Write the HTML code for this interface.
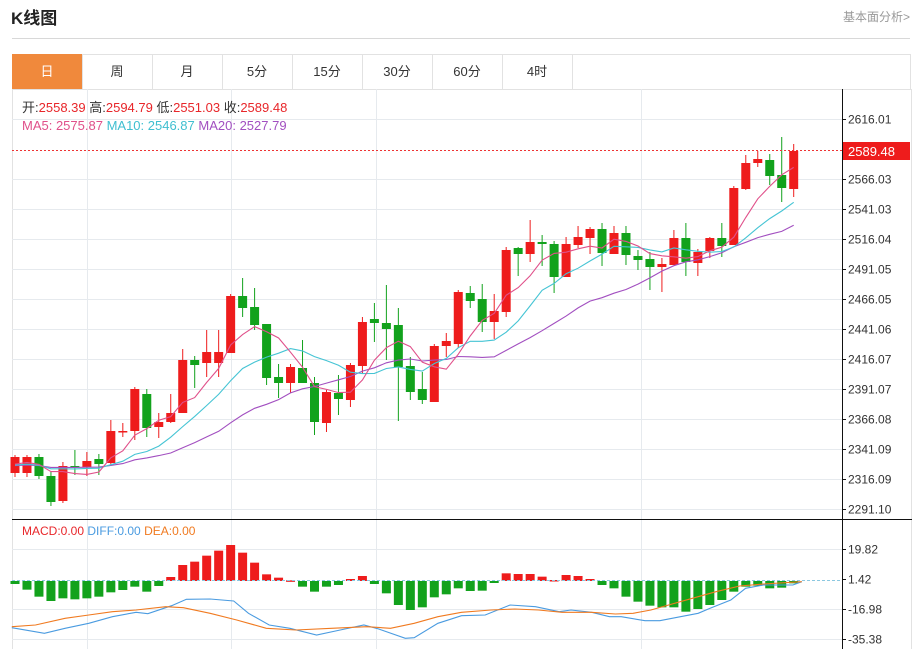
<!DOCTYPE html>
<html><head><meta charset="utf-8">
<style>
body{margin:0;background:#fff;width:916px;height:649px;overflow:hidden;font-family:"Liberation Sans","Noto Sans CJK SC",sans-serif;}
svg{position:absolute;left:0;top:0}
</style></head>
<body>
<svg id="s" width="916" height="649" xmlns="http://www.w3.org/2000/svg" font-family="Liberation Sans, Noto Sans CJK SC, sans-serif">
<text x="11" y="24" font-size="17" font-weight="bold" fill="#222">K线图</text>
<text x="843" y="21" font-size="12" fill="#999">基本面分析&gt;</text>
<line x1="12" y1="38.5" x2="910" y2="38.5" stroke="#d8d8d8"/>
<rect x="12.5" y="54.5" width="898" height="35" fill="#fff" stroke="#e2e2e2"/>
<rect x="12" y="54" width="70" height="35" fill="#f0893c"/>
<g font-size="13" fill="#333" text-anchor="middle">
<text x="47" y="76" fill="#fff">日</text>
<text x="117" y="76">周</text><text x="187" y="76">月</text><text x="257" y="76">5分</text>
<text x="327" y="76">15分</text><text x="397" y="76">30分</text><text x="467" y="76">60分</text><text x="537" y="76">4时</text>
</g>
<g stroke="#e2e2e2"><line x1="82.5" y1="54" x2="82.5" y2="89"/><line x1="152.5" y1="54" x2="152.5" y2="89"/><line x1="222.5" y1="54" x2="222.5" y2="89"/><line x1="292.5" y1="54" x2="292.5" y2="89"/><line x1="362.5" y1="54" x2="362.5" y2="89"/><line x1="432.5" y1="54" x2="432.5" y2="89"/><line x1="502.5" y1="54" x2="502.5" y2="89"/><line x1="572.5" y1="54" x2="572.5" y2="89"/></g>
<line x1="12.5" y1="89" x2="12.5" y2="649" stroke="#e2e2e2"/>
<line x1="911.5" y1="89" x2="911.5" y2="649" stroke="#e2e2e2"/>
<g id="grid"></g>
<g id="plot"></g>
<line x1="12" y1="519.5" x2="912" y2="519.5" stroke="#111"/>
<line x1="842.5" y1="89" x2="842.5" y2="649" stroke="#111"/>
<g font-size="13">
<text x="22" y="112" fill="#333">开:<tspan fill="#e8262a">2558.39</tspan>  高:<tspan fill="#e8262a">2594.79</tspan>  低:<tspan fill="#e8262a">2551.03</tspan>  收:<tspan fill="#e8262a">2589.48</tspan></text>
<text x="22" y="130"><tspan fill="#e0508a">MA5: 2575.87</tspan>  <tspan fill="#3fbfd0">MA10: 2546.87</tspan>  <tspan fill="#a24fc0">MA20: 2527.79</tspan></text>
<text x="22" y="535" font-size="12"><tspan fill="#e8262a">MACD:0.00</tspan>  <tspan fill="#4a9be0">DIFF:0.00</tspan>  <tspan fill="#f07a20">DEA:0.00</tspan></text>
</g>
</svg>
<script>
var NS="http://www.w3.org/2000/svg";
function el(p,t,a){var e=document.createElementNS(NS,t);for(var k in a)e.setAttribute(k,a[k]);p.appendChild(e);return e;}
var g=document.getElementById('grid'),P=document.getElementById('plot');
var pl=["2616.01","2591.02","2566.03","2541.03","2516.04","2491.05","2466.05","2441.06","2416.07","2391.07","2366.08","2341.09","2316.09","2291.10"];
for(var i=0;i<pl.length;i++){var y=119+i*30;
 if(i!=1){el(g,'line',{x1:12,y1:y+.5,x2:842,y2:y+.5,stroke:'#e6eaee'});
 el(g,'line',{x1:842,y1:y+.5,x2:846,y2:y+.5,stroke:'#111'});
 var t=el(g,'text',{x:848,y:y+4.5,'font-size':12,fill:'#333'});t.textContent=pl[i];}}
var ml=["19.82","1.42","-16.98","-35.38"];
for(var i=0;i<4;i++){var y=549+i*30;
 if(i!=1)el(g,'line',{x1:12,y1:y+.5,x2:842,y2:y+.5,stroke:'#e6eaee'});
 el(g,'line',{x1:842,y1:y+.5,x2:846,y2:y+.5,stroke:'#111'});
 var t=el(g,'text',{x:848,y:y+4.5,'font-size':12,fill:'#333'});t.textContent=ml[i];}
[87,231,376,641].forEach(function(x){el(g,'line',{x1:x+.5,y1:89,x2:x+.5,y2:649,stroke:'#e6eaee'});});
// candles: [bodyTop, bodyBot, wickTop, wickBot, red?]
var C=[[457,473,455,477,1],[457,473,455,477,1],[457,476,454,479,0],[476,502,472,506,0],[466,501,462,503,1],[466,467,450,475,0],[461,467,452,476,1],[459,464,454,475,0],[431,463,420,465,1],[431,432,423,437,1],[389,431,387,440,1],[394,428,389,437,0],[422,427,413,438,1],[413,422,394,423,1],[360,413,349,413,1],[360,365,356,388,0],[352,363,330,377,1],[352,363,330,377,1],[296,353,294,353,1],[296,308,278,317,0],[307,325,288,330,0],[324,378,324,385,0],[377,383,364,398,0],[367,383,364,393,1],[368,383,340,383,0],[383,422,377,435,0],[392,423,390,432,1],[393,399,375,415,0],[365,400,363,407,1],[322,366,317,373,1],[319,323,303,342,0],[323,329,285,360,0],[325,367,308,421,0],[366,392,357,400,0],[389,400,372,404,0],[346,402,344,402,1],[341,346,333,357,1],[292,344,290,348,1],[293,301,286,308,0],[299,322,284,332,0],[311,322,294,339,1],[250,312,247,317,1],[248,254,247,276,0],[242,254,220,262,1],[242,244,235,266,0],[244,277,241,293,0],[244,277,237,277,1],[237,245,226,248,1],[229,238,227,254,1],[229,253,223,266,0],[233,254,226,254,1],[233,255,226,265,0],[256,260,250,270,0],[259,267,252,290,0],[264,267,258,292,1],[238,265,230,265,1],[238,262,223,276,0],[252,263,249,276,1],[238,251,237,258,1],[238,246,223,257,0],[188,245,186,245,1],[163,189,155,190,1],[159,163,151,167,1],[160,176,154,185,0],[175,188,137,202,0],[151,189,144,197,1]];
var X=function(i){return 15+i*11.98;};
C.forEach(function(c,i){var x=X(i),col=c[4]?'#ee1c1c':'#12a21c';
 el(P,'line',{x1:x,y1:c[2],x2:x,y2:c[3],stroke:col,'stroke-width':1});
 el(P,'rect',{x:x-4.5,y:c[0],width:9,height:Math.max(1.5,c[1]-c[0]),fill:col});});
var cl=C.map(function(c){return c[4]?c[0]:c[1];});
var pad=[];for(var i=0;i<19;i++)pad.push(466);var all=pad.concat(cl);
function ma(n,colr){var pts=[];for(var i=0;i<cl.length;i++){var s=0;for(var j=0;j<n;j++)s+=all[i+19-j];pts.push(X(i).toFixed(1)+','+(s/n).toFixed(1));}
 el(P,'polyline',{points:pts.join(' '),fill:'none',stroke:colr,'stroke-width':1.1});}
ma(20,'#a24fc0');ma(10,'#45c4d4');ma(5,'#e0508a');
el(P,'line',{x1:12,y1:150.5,x2:842,y2:150.5,stroke:'#ee3333','stroke-dasharray':'2,2'});
el(P,'rect',{x:843,y:142,width:67,height:18,fill:'#ee1c1c'});
var t=el(P,'text',{x:848,y:156,'font-size':13,fill:'#fff'});t.textContent='2589.48';
// macd
var B=[207,224,245,258,250,253,250,245,232,225,215,230,213,186,150,140,122,107,90,113,143,178,188,196,215,230,215,210,192,183,207,235,270,285,277,247,238,220,228,227,204,175,177,177,185,195,180,183,192,210,220,245,260,272,277,277,290,282,270,255,230,215,212,220,218,205];
var base=581;
B.forEach(function(v,i){var y=515+v/3,x=X(i);var red=v<200;
 var top=Math.min(y,base),h=Math.max(1.5,Math.abs(y-base));
 el(P,'rect',{x:x-4.5,y:top,width:9,height:h,fill:red?'#ee1c1c':'#12a21c'});});
el(P,'line',{x1:12,y1:580.5,x2:842,y2:580.5,stroke:'#8cc8e0','stroke-dasharray':'3,2'});
function ln(a,colr){el(P,'polyline',{points:a.map(function(p){return (p[0]/1.69).toFixed(1)+','+(515+p[1]/3).toFixed(1);}).join(' '),fill:'none',stroke:colr,'stroke-width':1.1});}
ln([[20,338],[75,355],[110,340],[150,325],[190,305],[230,292],[250,296],[290,272],[315,253],[355,252],[395,258],[420,295],[455,330],[490,340],[535,360],[575,345],[615,330],[640,342],[685,370],[700,368],[740,325],[780,302],[820,300],[862,270],[905,275],[945,290],[965,285],[1000,292],[1030,305],[1050,305],[1090,317],[1115,317],[1150,305],[1180,295],[1200,280],[1235,255],[1260,220],[1290,210],[1340,210],[1355,200]],'#4a9be0');
ln([[20,335],[60,330],[110,310],[150,300],[190,290],[230,285],[280,275],[310,278],[355,295],[400,315],[450,340],[500,345],[560,340],[620,335],[660,340],[700,325],[740,305],[780,292],[830,285],[870,282],[910,285],[950,292],[1000,292],[1040,297],[1070,295],[1100,285],[1130,270],[1170,250],[1210,230],[1250,213],[1290,207],[1355,200]],'#f07a20');
</script>
</body></html>
